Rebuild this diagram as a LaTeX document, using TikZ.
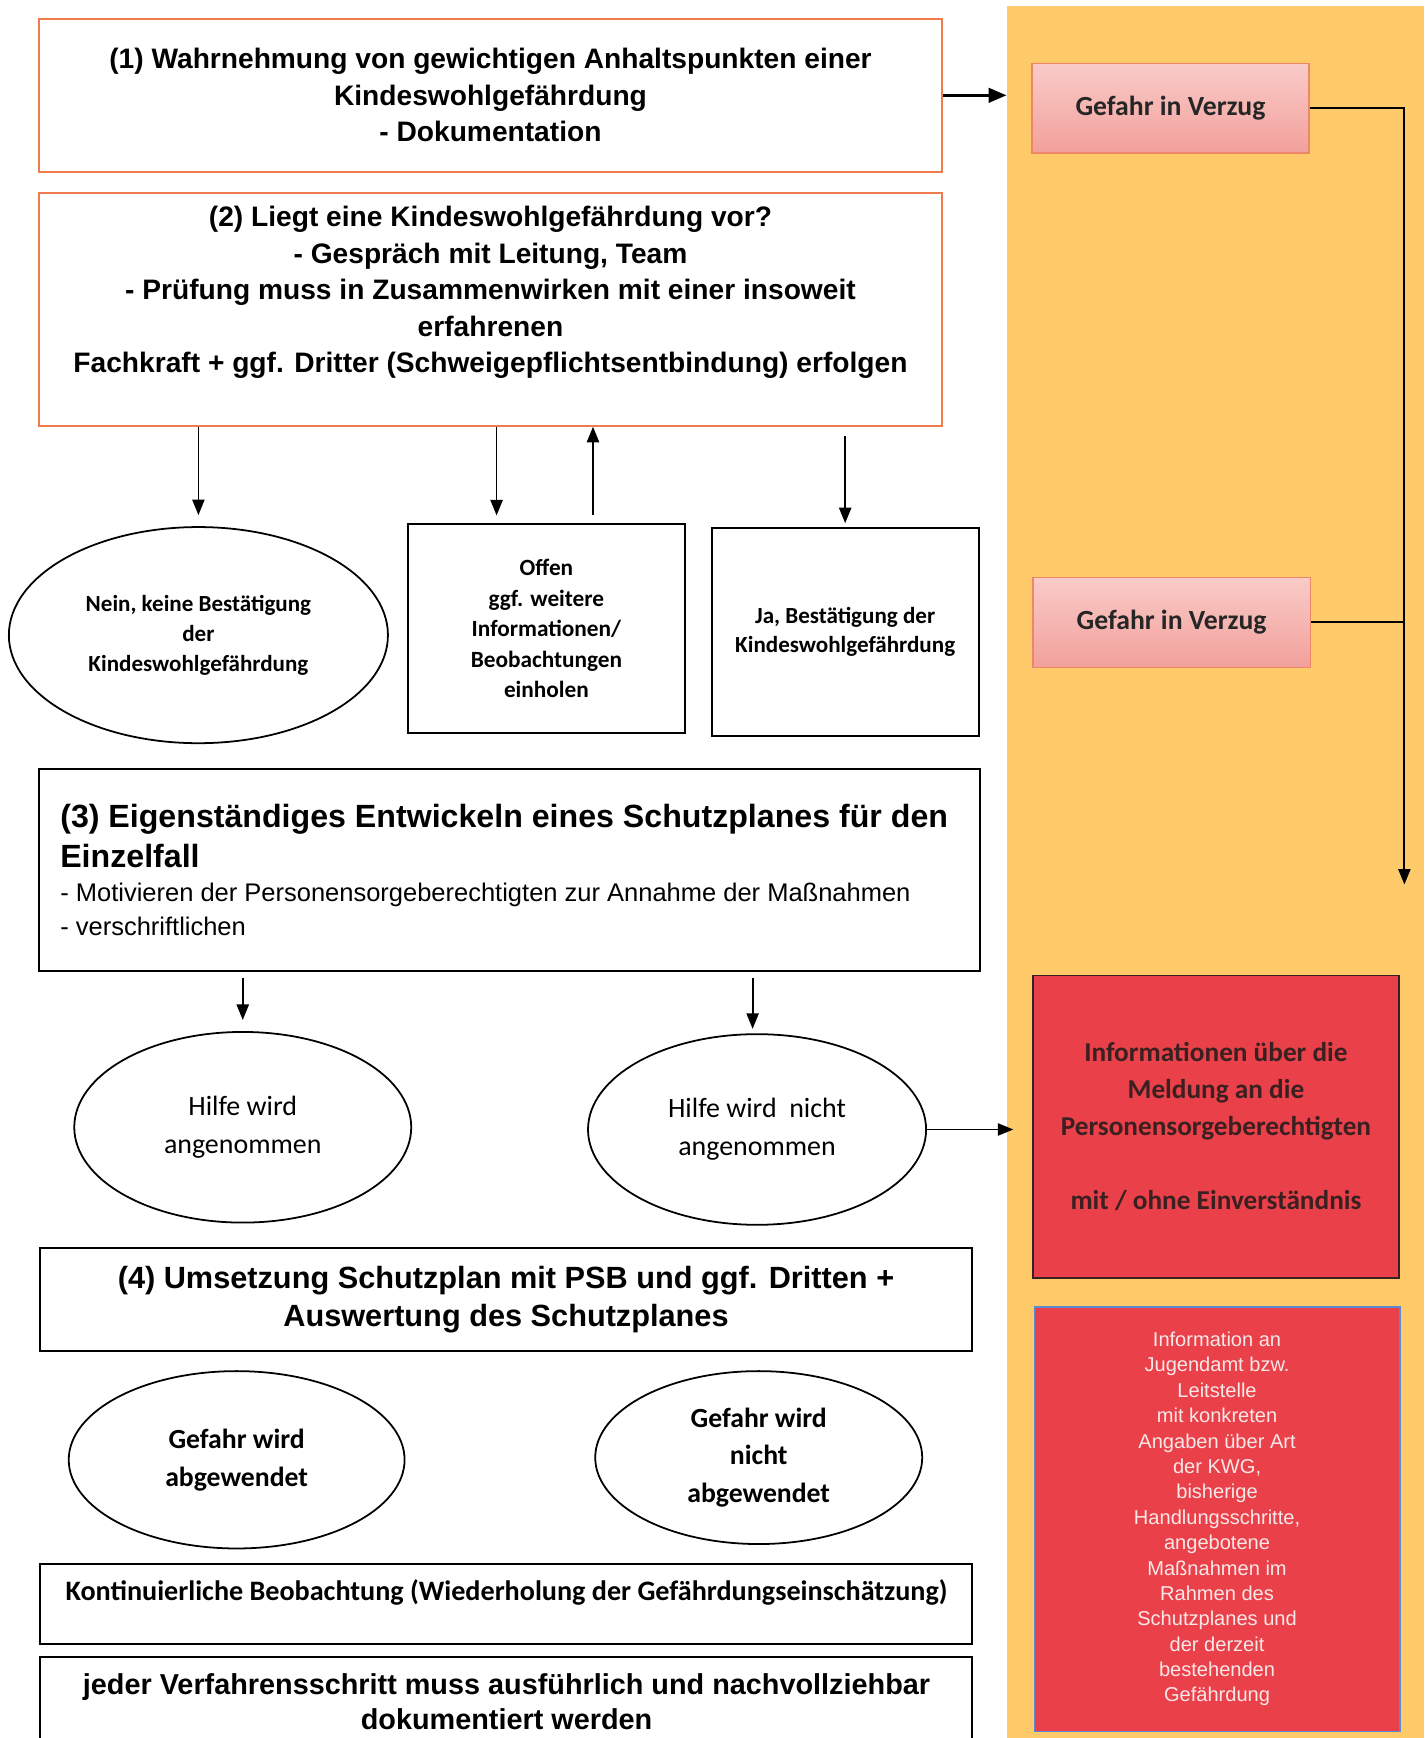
\documentclass[tikz,border=0pt]{standalone}
\usepackage{fontspec}
\setmainfont{Liberation Sans}
\newfontfamily\calfam{Carlito}
\usetikzlibrary{arrows.meta,shapes.geometric,calc}

\definecolor{panelfill}{HTML}{FFCA6A}
\definecolor{stepline}{HTML}{F07C4E}
\definecolor{alarmred}{HTML}{EA4049}
\definecolor{pinktop}{HTML}{F9CBC8}
\definecolor{pinkbot}{HTML}{F2A09B}
\definecolor{pinkline}{HTML}{EE8668}
\definecolor{darktext}{HTML}{3A2020}
\definecolor{bluerim}{HTML}{5A8AD0}
\definecolor{softwhite}{HTML}{F8E8E8}

\begin{document}
\begin{tikzpicture}[
  x=0.5pt, y=-0.5pt,
  stepbox/.style={draw=stepline, line width=1pt, inner sep=0pt},
  plainbox/.style={draw=black, line width=1pt, inner sep=0pt},
  oval/.style={ellipse, draw=black, line width=0.8pt, inner sep=0pt, align=center},
  arr/.style={line width=0.8pt, -{Triangle[length=7pt,width=5.5pt]}},
  urgent/.style={top color=pinktop, bottom color=pinkbot, draw=pinkline, line width=0.6pt,
    inner sep=0pt, minimum width=125pt, minimum height=40.5pt,
    font=\calfam\fontsize{12.5pt}{15pt}\selectfont\bfseries, text=black!85}
]
\useasboundingbox (0,0) rectangle (1287,1568);
\clip (0,0) rectangle (1287,1568);
\fill[white] (0,0) rectangle (1287,1568);

% right-hand column for urgent cases
\node[fill=panelfill, inner sep=0pt, anchor=north west, minimum width=188pt, minimum height=790pt] (panel) at (908,5) {};

% step (1)
\node[stepbox, minimum width=407.5pt, minimum height=69pt, align=center,
      font=\fontsize{12.7pt}{16.5pt}\selectfont\bfseries] (b1) at (442.5,86)
  {(1) Wahrnehmung von gewichtigen Anhaltspunkten einer\\Kindeswohlgefährdung\\- Dokumentation};

% step (2)
\node[stepbox, minimum width=407.5pt, minimum height=105pt] (b2) at (442.5,279) {};
\node[align=center, inner sep=0pt, font=\fontsize{12.7pt}{16.5pt}\selectfont\bfseries] (b2t) at (442.5,264)
  {(2) Liegt eine Kindeswohlgefährdung vor?\\- Gespräch mit Leitung, Team\\- Prüfung muss in Zusammenwirken mit einer insoweit\\erfahrenen\\Fachkraft + ggf. Dritter (Schweigepflichtsentbindung) erfolgen};

% outcomes of step (2)
\node[oval, minimum width=171pt, minimum height=97.5pt,
      font=\calfam\fontsize{10.4pt}{13.5pt}\selectfont\bfseries] (nein) at (179,573)
  {Nein, keine Bestätigung\\der\\Kindeswohlgefährdung};
\node[plainbox, minimum width=125pt, minimum height=94pt, align=center,
      font=\calfam\fontsize{10.5pt}{13.75pt}\selectfont\bfseries] (offen) at (493,567)
  {Offen\\ggf. weitere\\Informationen/\\Beobachtungen\\einholen};
\node[plainbox, minimum width=120.5pt, minimum height=94pt, align=center,
      font=\calfam\fontsize{10.4pt}{13pt}\selectfont\bfseries] (ja) at (762.5,570)
  {Ja, Bestätigung der\\Kindeswohlgefährdung};

\coordinate (offL) at ($(offen.north)+(-45,0)$);
\coordinate (offR) at ($(offen.north)+(42,0)$);
\draw[arr, shorten >=5pt] (b2.south -| nein.north) -- (nein.north);
\draw[arr, shorten >=3.5pt] (b2.south -| offL) -- (offL);
\draw[arr, shorten <=3.5pt] (offR) -- (b2.south -| offR);
\draw[arr, shorten <=4pt, shorten >=1.5pt] (b2.south -| ja.north) -- (ja.north);

% step (3)
\node[plainbox, minimum width=424.5pt, minimum height=91pt] (b3) at (459.5,785) {};
\node[anchor=north west, inner sep=0pt, align=left,
      font=\fontsize{14.5pt}{18pt}\selectfont\bfseries] (b3head) at (54,725)
  {(3) Eigenständiges Entwickeln eines Schutzplanes für den\\Einzelfall};
\node[anchor=north west, inner sep=0pt, align=left,
      font=\fontsize{11.5pt}{15.5pt}\selectfont] (b3list) at (54,796)
  {- Motivieren der Personensorgeberechtigten zur Annahme der Maßnahmen\\- verschriftlichen};

% reactions to the protection plan
\node[oval, minimum width=152pt, minimum height=86pt,
      font=\calfam\fontsize{12.6pt}{17pt}\selectfont] (hilfeA) at (219,1017)
  {Hilfe wird\\angenommen};
\node[oval, minimum width=152.5pt, minimum height=86pt,
      font=\calfam\fontsize{12.6pt}{17pt}\selectfont] (hilfeB) at (683,1019)
  {Hilfe wird\ \ nicht\\angenommen};

\coordinate (hilfeBin) at ($(hilfeB.north)+(-4,0)$);
\draw[arr, shorten <=2.5pt, shorten >=5pt] (b3.south -| hilfeA.north) -- (hilfeA.north);
\draw[arr, shorten <=2.5pt, shorten >=2pt] (b3.south -| hilfeBin) -- (hilfeBin);

% step (4)
\node[plainbox, minimum width=420.5pt, minimum height=46.5pt, align=center,
      font=\fontsize{13.85pt}{17pt}\selectfont\bfseries] (b4) at (456.5,1172.5)
  {(4) Umsetzung Schutzplan mit PSB und ggf. Dritten +\\Auswertung des Schutzplanes};

\node[oval, minimum width=151.5pt, minimum height=80pt,
      font=\calfam\fontsize{12.5pt}{17pt}\selectfont\bfseries] (gefA) at (213.5,1317)
  {Gefahr wird\\abgewendet};
\node[oval, minimum width=147.5pt, minimum height=78pt,
      font=\calfam\fontsize{12.5pt}{17pt}\selectfont\bfseries] (gefB) at (684.5,1315)
  {Gefahr wird\\nicht\\abgewendet};

% closing notes
\node[plainbox, minimum width=420.5pt, minimum height=36pt] (kont) at (456.5,1447) {};
\node[inner sep=0pt, font=\calfam\fontsize{12.7pt}{15pt}\selectfont\bfseries] (kontt) at (457,1437)
  {Kontinuierliche Beobachtung (Wiederholung der Gefährdungseinschätzung)};
\node[plainbox, minimum width=420.5pt, minimum height=45pt] (doku) at (456.5,1540) {};
\node[inner sep=0pt, align=center, font=\fontsize{13pt}{16pt}\selectfont\bfseries] (dokut) at (457,1535)
  {jeder Verfahrensschritt muss ausführlich und nachvollziehbar\\dokumentiert werden};

% urgent path
\node[urgent] (urgA) at (1056,97.5) {Gefahr in Verzug};
\node[urgent] (urgB) at (1057,561.5) {Gefahr in Verzug};
\coordinate (drop) at (1267,798);

\node[fill=alarmred, draw=darktext, line width=0.8pt, inner sep=0pt, minimum width=165pt, minimum height=136.5pt,
      align=center, text=darktext, font=\calfam\fontsize{12.3pt}{16.75pt}\selectfont\bfseries] (info) at (1097,1016.5)
  {Informationen über die\\Meldung an die\\Personensorgeberechtigten\\\mbox{}\\mit / ohne Einverständnis};

\node[fill=alarmred, draw=bluerim, line width=0.6pt, inner sep=0pt, minimum width=165pt, minimum height=191.5pt,
      align=center, text=softwhite, font=\fontsize{9.05pt}{11.45pt}\selectfont] (amt) at (1098,1370.5)
  {Information an\\Jugendamt bzw.\\Leitstelle\\mit konkreten\\Angaben über Art\\der KWG,\\bisherige\\Handlungsschritte,\\angebotene\\Maßnahmen im\\Rahmen des\\Schutzplanes und\\der derzeit\\bestehenden\\Gefährdung};

\draw[line width=1.3pt, -{Triangle[length=8pt,width=6.5pt]}] (b1.east) -- (b1.east -| panel.west);
\draw[arr] (urgA.east) -| (drop);
\draw[line width=0.8pt] (urgB.east) -- (urgB.east -| drop);
\draw[arr, shorten >=8.5pt] (hilfeB.east) -- (hilfeB.east -| info.west);

\end{tikzpicture}
\end{document}
